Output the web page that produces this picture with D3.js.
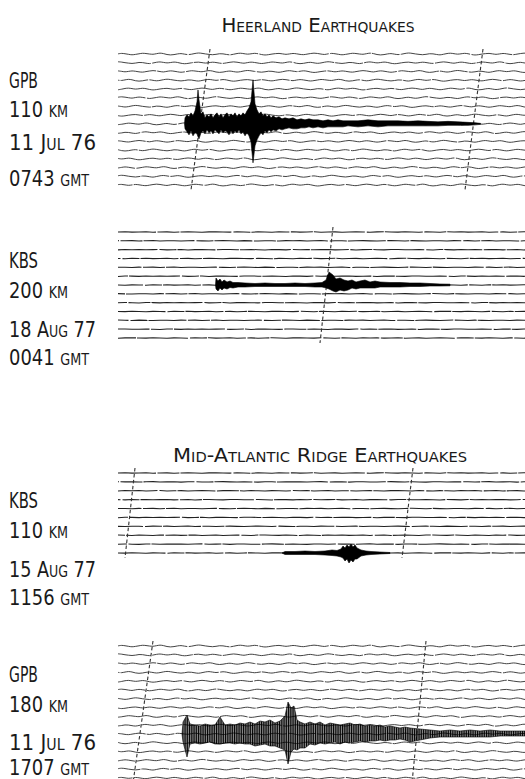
<!DOCTYPE html>
<html><head><meta charset="utf-8">
<script src="https://cdn.jsdelivr.net/npm/d3@7"></script>
<style>
html,body{margin:0;padding:0;background:#fff;}
svg{display:block;}
text{font-family:"DejaVu Sans Condensed","DejaVu Sans",sans-serif;font-weight:200;font-variant:small-caps;fill:#1a1a1a;}
</style></head><body>
<svg id="c" width="525" height="779"></svg>
<script>
// ---------------- data ----------------
const titles = ["Heerland Earthquakes", "Mid-Atlantic Ridge Earthquakes"];
const stations = ["GPB", "KBS", "KBS", "GPB"];
const distances = ["110 km", "200 km", "110 km", "180 km"];
const dates = ["11 Jul 76", "18 Aug 77", "15 Aug 77", "11 Jul 76"];
const times = ["0743 gmt", "0041 gmt", "1156 gmt", "1707 gmt"];
const traceCounts = [16, 13, 10, 16];
const eventTrace = [8, 6, 9, 10];
// minute marks (record s) where they cross the first and the last trace
const marksTop = [[18.4, 73.0], [43.0], [3.4, 59.0], [7.0, 61.6]];
const marksBottom = [[14.6, 69.4], [40.4], [1.4, 56.8], [3.0, 58.8]];

// background microseism (deflection units)
const noiseWavy = [0.2, 0.9, 0.4, -0.5, -1.2, -0.6, 0.3, 1.1, 0.7, 0.0, -0.4, 0.5, 1.3, 0.6, -0.8, -1.4, -0.9,
  0.1, 0.6, -0.2, -0.9, -0.3, 0.8, 1.5, 1.0, 0.1, -0.6, -1.1, -0.5, 0.4, 0.2, -0.7, -1.3, -0.4, 0.7, 1.2, 0.5,
  -0.2, 0.3, 1.0, 0.4, -0.8, -1.5, -1.0, -0.1, 0.6, 0.9, 0.2, -0.5, 0.1, 0.8, 0.3, -0.6, -1.0, -0.2, 0.7, 1.3,
  0.8, -0.1, -0.7];
const noiseQuiet = [0, 0.3, -0.2, 0.1, 0.4, -0.3, 0, 0.2, -0.4, 0.1, 0.3, -0.1, -0.3, 0.2, 0.4, 0, -0.2,
  0.3, -0.1, -0.4, 0.2, 0.1, -0.3, 0.3];

// event envelopes: time (record s), upward and downward deflection
const ev1T = [13.3, 13.4, 13.8, 14.2, 14.6, 15.0, 15.4, 15.8, 16.0, 16.2, 16.6, 17.0, 17.4, 17.8, 18.2, 18.6,
  19.0, 19.4, 19.8, 20.2, 20.6, 21.0, 21.4, 21.8, 22.2, 22.6, 23.0, 23.4, 23.8, 24.2, 24.6, 25.0, 25.4, 25.8,
  26.2, 26.6, 27.0, 27.4, 27.8, 28.2, 28.6, 29.0, 29.4, 29.8, 30.2, 30.6, 31.0, 31.6, 32.2, 32.8, 33.4, 34.2,
  35.0, 35.8, 36.6, 37.4, 38.2, 39.0, 40.0, 41.0, 42.0, 43.0, 44.0, 45.0, 46.0, 48.0, 50.0, 52.0, 54.0, 56.0,
  58.0, 60.0, 62.0, 64.0, 66.0, 68.0, 70.0, 71.5, 72.5];
const ev1Up = [0, 6, 9, 7, 11, 8, 13, 22, 34, 24, 10, 12, 6, 9, 7, 10, 6, 9, 11, 7, 10, 6, 9, 11, 7, 10, 8, 11,
  7, 10, 8, 11, 9, 13, 16, 22, 44, 20, 14, 10, 12, 8, 10, 7, 9, 6, 8, 6, 7, 5, 6, 5, 6, 4, 5, 4, 5, 4, 4, 3,
  4, 3, 4, 3, 3, 3, 4, 3, 3, 3, 2.5, 3, 2.5, 2, 2.5, 2, 1.5, 1, 0.5];
const ev1Down = [0, 5, 8, 11, 7, 12, 9, 10, 13, 15, 9, 7, 10, 6, 9, 7, 10, 6, 8, 10, 6, 9, 7, 8, 11, 7, 10, 7,
  9, 6, 10, 8, 12, 9, 12, 18, 39, 22, 16, 12, 9, 11, 7, 9, 6, 8, 6, 7, 5, 6, 5, 4, 5, 5, 4, 4, 3, 4, 3, 4, 3,
  3, 3, 3, 2, 3, 2, 3, 2, 2, 2, 2, 2, 2, 1.5, 1.5, 1.5, 1, 0.5];

const ev2T = [19.5, 19.6, 20.0, 20.4, 20.8, 21.2, 21.8, 22.4, 23.0, 24.0, 25.4, 27.4, 29.4, 31.4, 33.4, 35.4,
  37.4, 39.4, 40.8, 41.6, 42.2, 43.0, 43.6, 44.4, 45.2, 46.0, 46.8, 47.6, 48.4, 49.4, 50.4, 51.4, 52.4, 54.4,
  56.4, 58.4, 60.4, 62.4, 64.4, 66.4];
const ev2Up = [0, 7, 4, 6, 3, 5, 3, 4, 2.5, 2.5, 2, 1.5, 2, 1.5, 1.5, 2, 1.5, 2, 2.5, 5, 13, 10, 6, 7, 5, 4, 5,
  3, 4, 5, 3, 4, 3, 2.5, 2.5, 2, 2, 1.5, 1, 0.8];
const ev2Down = [0, 4, 6, 3, 5, 3, 4, 2.5, 3, 2, 2, 1.5, 1.5, 1.5, 1.5, 1.5, 1.5, 2, 2, 3, 4, 6, 7, 5, 6, 5, 3,
  4, 3, 3, 3, 3, 2, 2, 2, 1.5, 1.5, 1, 1, 0.8];

const ev3T = [32.8, 33.4, 35.4, 37.4, 39.4, 41.4, 42.8, 43.8, 44.6, 45.0, 45.4, 45.8, 46.2, 46.6, 47.0, 47.4,
  47.8, 48.6, 49.6, 50.6, 52.4, 54.4];
const ev3Up = [0, 1.5, 1.5, 2, 1.5, 2, 3, 2.5, 4, 7, 5, 8, 6, 9, 6, 8, 5, 3, 2, 1.5, 1, 0.5];
const ev3Down = [0, 1.5, 1.5, 1.5, 1.5, 2, 2.5, 3, 4, 5, 8, 6, 10, 7, 9, 6, 6, 3, 2, 1.5, 1, 0.5];

const ev4T = [12.8, 13.0, 13.8, 14.4, 15.4, 16.4, 17.4, 18.4, 19.4, 20.4, 21.4, 22.4, 23.4, 24.4, 25.4, 26.4,
  27.4, 28.4, 29.4, 30.4, 31.4, 32.4, 33.4, 34.0, 34.6, 35.2, 35.8, 36.4, 37.4, 38.4, 39.4, 40.4, 41.4, 42.4,
  43.4, 44.4, 45.4, 46.4, 47.4, 48.4, 49.4, 50.4, 51.4, 52.4, 53.4, 54.4, 55.4, 56.4, 57.4, 58.4, 60.4, 62.4,
  64.4, 66.4, 68.4, 70.4, 72.4, 74.4, 76.4, 78.4, 81.4];
const ev4Up = [0, 12, 19, 10, 9, 8, 10, 9, 9, 17, 9, 10, 9, 11, 10, 12, 10, 13, 12, 14, 11, 13, 18, 32, 26, 28,
  14, 12, 10, 12, 10, 12, 9, 11, 10, 9, 10, 11, 9, 10, 8, 9, 8, 9, 7, 8, 7, 6, 7, 6, 5, 4, 3, 4, 3, 4, 3, 4,
  3, 3, 3];
const ev4Down = [0, 8, 23, 10, 9, 10, 9, 8, 10, 10, 9, 9, 10, 9, 10, 10, 12, 11, 10, 12, 12, 14, 16, 30, 18, 15,
  16, 14, 14, 10, 11, 9, 10, 9, 8, 10, 8, 9, 8, 7, 8, 7, 7, 6, 7, 6, 6, 5, 6, 8, 6, 4, 3, 3, 3, 3, 3, 3, 2,
  2, 2];

// ---------------- layout ----------------
const W = 525;
const panelFirstY = [54, 232, 473, 646];
const panelLastY = [185, 338, 553, 778];
const labelBaselines = [[88, 117, 150, 186], [268, 298, 337, 365], [508, 538, 577, 605], [682, 712, 750, 775]];
const labelWidths = [29, 59, 87, 80];
const titleLayout = [{x: 318, y: 32, w: 193}, {x: 320, y: 462, w: 294}];
const noiseOf = [noiseWavy, noiseQuiet, noiseQuiet, noiseWavy];
const events = [
  {t: ev1T, up: ev1Up, down: ev1Down, fill: "#000"},
  {t: ev2T, up: ev2Up, down: ev2Down, fill: "#000"},
  {t: ev3T, up: ev3Up, down: ev3Down, fill: "#000"},
  {t: ev4T, up: ev4Up, down: ev4Down, fill: "url(#strokes)"}
];

const svg = d3.select("#c");
const defs = svg.append("defs");
const pat = defs.append("pattern").attr("id", "strokes").attr("patternUnits", "userSpaceOnUse")
  .attr("width", 1.8).attr("height", 10);
pat.append("rect").attr("width", 1.3).attr("height", 10).attr("fill", "#000");

const x = d3.scaleLinear().domain([0, 81.4]).range([118, W]);
const defl = d3.scaleLinear().domain([0, 10]).range([0, 10]);
const microDefl = d3.scaleLinear().domain([0, 10]).range([0, 6.5]);

titles.forEach((t, i) => {
  svg.append("text").attr("x", titleLayout[i].x).attr("y", titleLayout[i].y)
    .attr("text-anchor", "middle").attr("font-size", 20)
    .attr("textLength", titleLayout[i].w).attr("lengthAdjust", "spacingAndGlyphs")
    .text(t);
});

for (let p = 0; p < 4; p++) {
  [stations[p], distances[p], dates[p], times[p]].forEach((s, k) => {
    svg.append("text").attr("x", 9).attr("y", labelBaselines[p][k]).attr("font-size", 21)
      .attr("textLength", labelWidths[k]).attr("lengthAdjust", "spacingAndGlyphs").text(s);
  });

  const yLine = d3.scalePoint().domain(d3.range(traceCounts[p])).range([panelFirstY[p], panelLastY[p]]);
  const wavy = p === 0 || p === 3;
  const noise = noiseOf[p];
  const step = wavy ? 0.7 : 1.4;
  const sampleT = d3.range(0, 81.4 + step, step);
  const g = svg.append("g");

  d3.range(traceCounts[p]).forEach(i => {
    const pts = sampleT.map((t, k) => [x(t), yLine(i) - microDefl(noise[(k + i * 23) % noise.length])]);
    g.append("path")
      .attr("d", d3.line().curve(wavy ? d3.curveCatmullRom : d3.curveLinear)(pts))
      .attr("fill", "none")
      .attr("stroke", "#222")
      .attr("stroke-width", wavy ? 0.85 : 1.05)
      .attr("stroke-dasharray", wavy ? "70,1.5,41,1,28,1.2" : "38,1.5,22,1,51,2,17,1")
      .attr("stroke-dashoffset", i * 37);
  });

  marksTop[p].forEach((tt, m) => {
    const tb = marksBottom[p][m];
    g.append("path")
      .attr("d", d3.line()([[x(tt), yLine(0) - 5], [x(tb), yLine(traceCounts[p] - 1) + 5]]))
      .attr("stroke", "#333").attr("stroke-width", 1.1)
      .attr("stroke-dasharray", "3.5,2.5").attr("fill", "none");
  });

  const ev = events[p];
  const y0 = yLine(eventTrace[p]);
  const data = ev.t.map((t, k) => ({t, up: ev.up[k], down: ev.down[k]}));
  g.append("path")
    .datum(data)
    .attr("d", d3.area().x(d => x(d.t)).y0(d => y0 + defl(d.down)).y1(d => y0 - defl(d.up)))
    .attr("fill", ev.fill)
    .attr("stroke", "#000").attr("stroke-width", 0.6);
}
</script>
</body></html>
